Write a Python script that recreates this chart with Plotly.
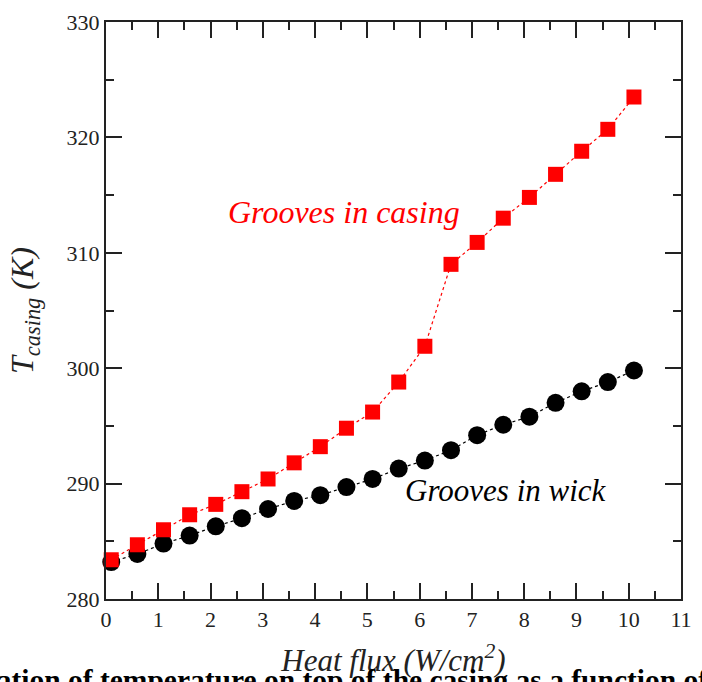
import plotly.graph_objects as go

# Data
heat_flux = [0.1, 0.6, 1.1, 1.6, 2.1, 2.6, 3.1, 3.6, 4.1, 4.6, 5.1,
             5.6, 6.1, 6.6, 7.1, 7.6, 8.1, 8.6, 9.1, 9.6, 10.1]
t_grooves_casing = [283.4, 284.7, 286.0, 287.3, 288.2, 289.3, 290.4, 291.8, 293.2, 294.8, 296.2,
                    298.8, 301.9, 309.0, 310.9, 313.0, 314.8, 316.8, 318.8, 320.7, 323.5]
t_grooves_wick = [283.2, 283.9, 284.8, 285.5, 286.3, 287.0, 287.8, 288.5, 289.0, 289.7, 290.4,
                  291.3, 292.0, 292.9, 294.2, 295.1, 295.8, 297.0, 298.0, 298.8, 299.8]
x_ticks = [0, 1, 2, 3, 4, 5, 6, 7, 8, 9, 10, 11]
y_ticks = [280, 290, 300, 310, 320, 330]

SERIF = "Liberation Serif, Times New Roman, serif"

fig = go.Figure()
fig.add_trace(go.Scatter(
    x=heat_flux, y=t_grooves_wick, mode="lines+markers",
    line=dict(color="black", width=1.2, dash="dot"),
    marker=dict(symbol="circle", size=18, color="black"),
    showlegend=False, cliponaxis=False))
fig.add_trace(go.Scatter(
    x=heat_flux, y=t_grooves_casing, mode="lines+markers",
    line=dict(color="#ff0000", width=1.2, dash="dot"),
    marker=dict(symbol="square", size=15, color="#ff0000"),
    showlegend=False, cliponaxis=False))

axis_common = dict(
    showgrid=False, zeroline=False, showline=True, linecolor="#222", linewidth=2,
    mirror="ticks", ticks="inside", ticklen=16, tickwidth=1.5, tickcolor="#222",
    tickfont=dict(family=SERIF, size=22, color="#222"),
)

fig.update_xaxes(
    range=[0, 11], tickvals=x_ticks, ticktext=[str(v) for v in x_ticks],
    minor=dict(dtick=0.5, ticks="inside", ticklen=8, tickwidth=1.5, tickcolor="#222"),
    title=dict(text="<i>Heat flux (W/cm<sup>2</sup>)</i>",
               font=dict(family=SERIF, size=31, color="#222"), standoff=18),
    **axis_common)
fig.update_yaxes(
    range=[280, 330], tickvals=y_ticks, ticktext=[str(v) for v in y_ticks],
    minor=dict(dtick=5, ticks="inside", ticklen=8, tickwidth=1.5, tickcolor="#222"),
    title=dict(text="<i>T<sub>casing</sub> (K)</i>",
               font=dict(family=SERIF, size=32, color="#222"), standoff=23),
    **axis_common)

fig.add_annotation(x=4.56, y=313.5, xref="x", yref="y", text="<i>Grooves in casing</i>",
                   showarrow=False, font=dict(family=SERIF, size=32, color="#ff0000"))
fig.add_annotation(x=7.65, y=289.4, xref="x", yref="y", text="<i>Grooves in wick</i>",
                   showarrow=False, font=dict(family=SERIF, size=31, color="black"))
fig.add_annotation(x=-0.289, y=-0.14, xref="paper", yref="paper", xanchor="left", yanchor="middle",
                   text="<b>Variation of temperature on top of the casing as a function of heat flux</b>",
                   showarrow=False, font=dict(family=SERIF, size=29.5, color="black"))

fig.update_layout(
    width=702, height=682,
    margin=dict(l=106, r=10, t=15, b=80),
    plot_bgcolor="white", paper_bgcolor="white",
)

fig.write_html("out.html")
